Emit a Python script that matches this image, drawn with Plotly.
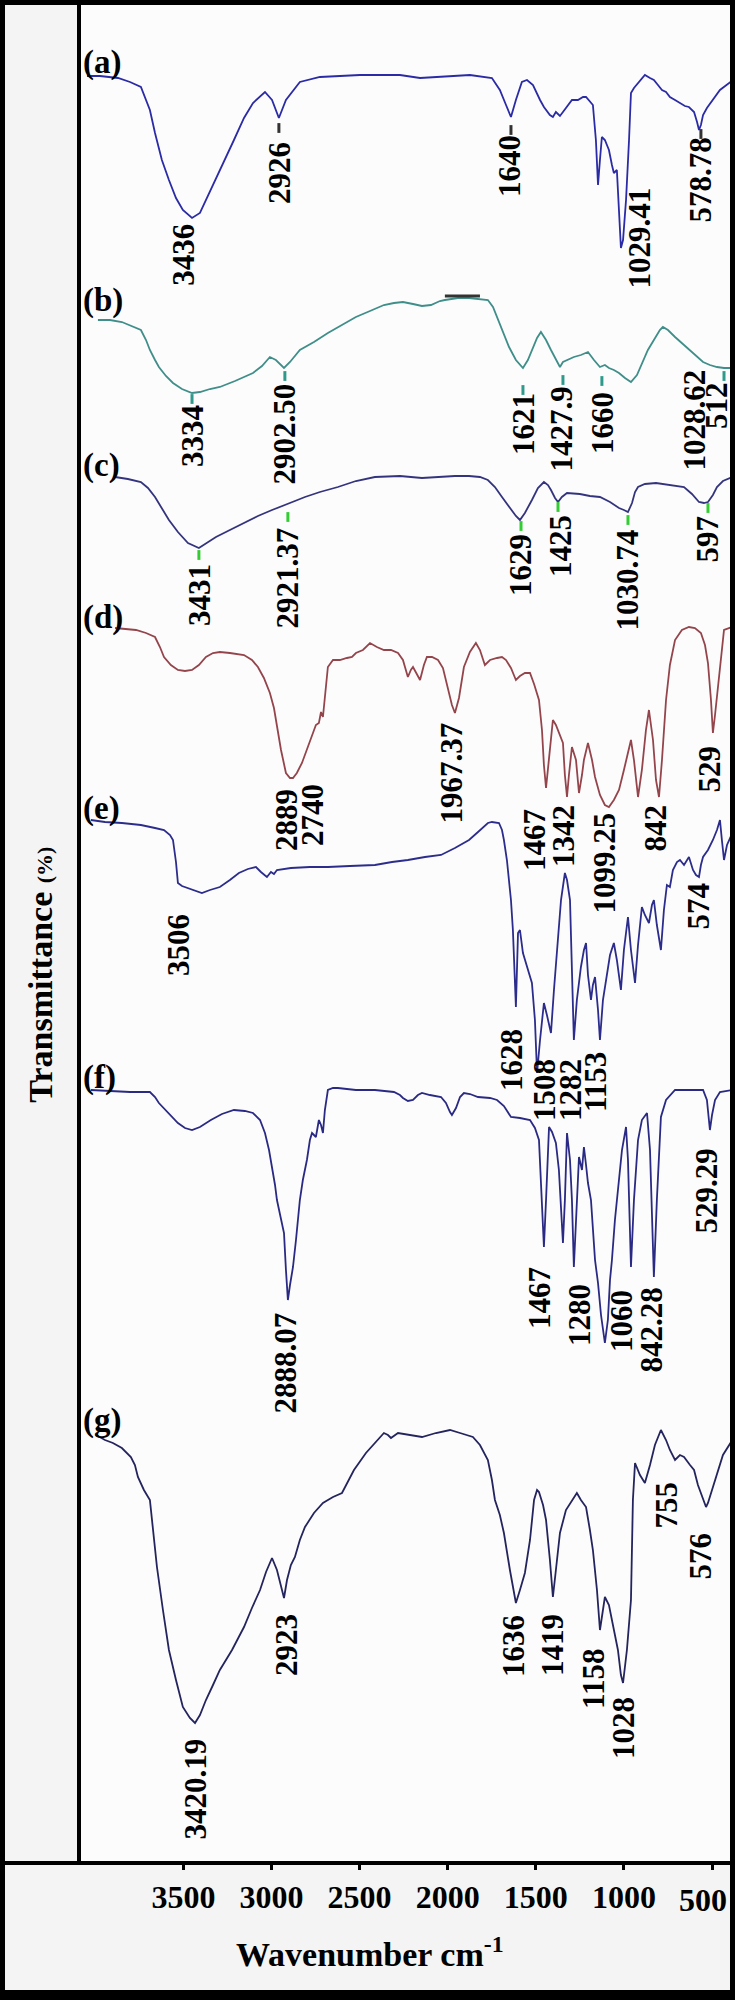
import plotly.graph_objects as go

# stacked FTIR spectra, x = wavenumber (cm-1), y = transmittance with vertical offset (a.u.)
wn_a = [4047, 3974, 3871, 3803, 3741, 3690, 3661, 3622, 3582, 3542, 3503, 3451, 3406, 3344, 3281, 3213, 3156, 3105,
        3037, 2997, 2958, 2918, 2839, 2725, 2498, 2271, 2157, 2044, 1874, 1749, 1704, 1669, 1641, 1613, 1579, 1550,
        1516, 1476, 1454, 1420, 1403, 1386, 1363, 1346, 1318, 1295, 1261, 1232, 1215, 1193, 1176, 1159, 1147, 1136,
        1125, 1108, 1085, 1068, 1057, 1040, 1028, 1017, 1005, 988, 971, 960, 943, 920, 903, 881, 852, 830, 807, 784,
        761, 739, 710, 682, 654, 631, 602, 585, 574, 563, 551, 529, 495, 455, 395]
tr_a = [1787, 1787, 1785, 1781, 1776, 1753, 1730, 1703, 1683, 1665, 1653, 1645, 1650, 1673, 1698, 1723, 1745, 1760,
        1771, 1763, 1745, 1763, 1781, 1786, 1788, 1788, 1785, 1786, 1788, 1785, 1773, 1758, 1746, 1763, 1781, 1783,
        1778, 1763, 1756, 1748, 1746, 1751, 1747, 1751, 1758, 1763, 1763, 1766, 1766, 1761, 1758, 1723, 1678, 1703,
        1726, 1723, 1713, 1698, 1690, 1693, 1653, 1615, 1623, 1663, 1723, 1770, 1775, 1780, 1783, 1788, 1785, 1783,
        1778, 1773, 1771, 1766, 1763, 1760, 1757, 1756, 1751, 1741, 1733, 1738, 1748, 1755, 1763, 1773, 1781]

wn_b = [3985, 3917, 3849, 3792, 3741, 3712, 3690, 3661, 3639, 3599, 3559, 3508, 3451, 3406, 3349, 3293, 3207, 3105,
        3054, 3009, 2975, 2929, 2895, 2839, 2759, 2680, 2600, 2521, 2441, 2362, 2305, 2254, 2197, 2146, 2095, 2044,
        2016, 1942, 1879, 1817, 1772, 1743, 1720, 1686, 1652, 1613, 1573, 1545, 1522, 1493, 1471, 1442, 1414, 1386,
        1363, 1346, 1323, 1284, 1244, 1204, 1170, 1136, 1108, 1085, 1057, 1028, 994, 960, 926, 898, 864, 830, 796,
        779, 750, 710, 671, 631, 591, 551, 512, 472, 432, 385]
tr_b = [1543, 1543, 1541, 1537, 1533, 1523, 1513, 1503, 1496, 1487, 1480, 1474, 1470, 1471, 1474, 1476, 1482, 1490,
        1497, 1506, 1503, 1495, 1501, 1513, 1521, 1530, 1538, 1546, 1552, 1558, 1560, 1561, 1559, 1557, 1558, 1562,
        1563, 1565, 1565, 1564, 1563, 1556, 1546, 1531, 1516, 1503, 1495, 1503, 1513, 1525, 1531, 1523, 1513, 1503,
        1496, 1501, 1503, 1506, 1508, 1511, 1503, 1496, 1498, 1495, 1493, 1490, 1485, 1481, 1488, 1500, 1513, 1523,
        1533, 1536, 1533, 1526, 1520, 1513, 1507, 1501, 1498, 1496, 1495, 1495]

wn_c = [3888, 3815, 3741, 3701, 3661, 3622, 3582, 3531, 3474, 3412, 3366, 3315, 3236, 3156, 3077, 2997, 2918, 2867,
        2810, 2725, 2623, 2521, 2413, 2271, 2146, 2044, 1959, 1879, 1817, 1772, 1732, 1692, 1647, 1613, 1590, 1562,
        1522, 1488, 1454, 1431, 1414, 1391, 1374, 1352, 1323, 1250, 1193, 1136, 1079, 1028, 1000, 977, 954, 937, 920,
        881, 818, 739, 659, 614, 574, 546, 523, 495, 472, 438, 385]
tr_c = [1386, 1384, 1381, 1375, 1366, 1355, 1343, 1331, 1320, 1315, 1320, 1326, 1333, 1340, 1347, 1353, 1358, 1362,
        1366, 1371, 1376, 1382, 1386, 1387, 1385, 1386, 1387, 1387, 1386, 1383, 1376, 1366, 1355, 1347, 1343, 1350,
        1363, 1375, 1381, 1378, 1373, 1365, 1361, 1366, 1370, 1369, 1367, 1366, 1361, 1355, 1353, 1351, 1360, 1371,
        1376, 1379, 1380, 1378, 1376, 1369, 1361, 1360, 1361, 1368, 1376, 1382, 1386]

wn_d = [3888, 3832, 3769, 3712, 3661, 3633, 3610, 3571, 3531, 3491, 3451, 3412, 3372, 3332, 3293, 3236, 3156, 3111,
        3077, 3043, 3009, 2986, 2969, 2946, 2918, 2895, 2878, 2856, 2827, 2799, 2770, 2748, 2731, 2719, 2708, 2691,
        2680, 2651, 2612, 2572, 2543, 2521, 2481, 2441, 2402, 2362, 2322, 2282, 2254, 2226, 2209, 2197, 2180, 2157,
        2135, 2118, 2089, 2055, 2027, 1999, 1976, 1959, 1936, 1908, 1874, 1840, 1817, 1789, 1760, 1720, 1692, 1669,
        1641, 1613, 1590, 1562, 1533, 1510, 1482, 1465, 1454, 1442, 1425, 1403, 1386, 1363, 1346, 1335, 1323, 1312,
        1295, 1272, 1255, 1238, 1227, 1204, 1181, 1164, 1136, 1108, 1085, 1057, 1028, 1000, 977, 960, 943, 920, 898,
        875, 858, 835, 818, 801, 784, 761, 739, 710, 671, 631, 597, 563, 540, 523, 506, 495, 483, 472, 455, 432, 385]
tr_d = [1235, 1234, 1233, 1230, 1226, 1216, 1206, 1198, 1193, 1192, 1193, 1198, 1206, 1210, 1211, 1210, 1208, 1203,
        1196, 1185, 1170, 1155, 1136, 1113, 1090, 1085, 1085, 1090, 1100, 1113, 1126, 1138, 1140, 1151, 1146, 1173,
        1196, 1203, 1203, 1205, 1206, 1210, 1213, 1220, 1216, 1213, 1213, 1210, 1203, 1186, 1193, 1196, 1191, 1183,
        1198, 1206, 1206, 1203, 1195, 1173, 1158, 1150, 1165, 1196, 1211, 1220, 1213, 1198, 1203, 1205, 1206, 1203,
        1195, 1183, 1187, 1190, 1190, 1179, 1163, 1133, 1098, 1075, 1103, 1143, 1138, 1128, 1120, 1088, 1066, 1088,
        1116, 1103, 1070, 1088, 1103, 1120, 1103, 1086, 1068, 1058, 1056, 1063, 1073, 1093, 1111, 1123, 1103, 1066,
        1093, 1133, 1153, 1123, 1083, 1066, 1103, 1163, 1198, 1223, 1233, 1236, 1235, 1230, 1218, 1200, 1163, 1130,
        1148, 1166, 1198, 1233, 1236]

wn_e = [4025, 3945, 3849, 3741, 3661, 3610, 3576, 3559, 3542, 3531, 3508, 3491, 3446, 3395, 3349, 3293, 3236, 3185,
        3134, 3088, 3060, 3043, 3026, 3003, 2986, 2969, 2929, 2890, 2782, 2680, 2555, 2413, 2316, 2226, 2129, 2038,
        1959, 1879, 1828, 1800, 1772, 1749, 1726, 1709, 1692, 1681, 1664, 1652, 1641, 1630, 1613, 1601, 1590, 1573,
        1545, 1522, 1505, 1493, 1476, 1454, 1437, 1414, 1397, 1374, 1357, 1335, 1323, 1306, 1295, 1284, 1267, 1244,
        1227, 1215, 1204, 1187, 1176, 1164, 1147, 1136, 1119, 1096, 1079, 1057, 1040, 1017, 1000, 977, 960, 937, 920,
        898, 881, 858, 841, 830, 813, 790, 773, 756, 739, 722, 699, 682, 659, 631, 608, 591, 574, 563, 551, 523, 495,
        472, 455, 444, 432, 415, 385]
tr_e = [1043, 1041, 1040, 1038, 1035, 1033, 1028, 1023, 1001, 980, 977, 976, 973, 970, 973, 976, 983, 990, 994, 996,
        991, 988, 986, 991, 989, 993, 994, 995, 996, 996, 997, 998, 1001, 1003, 1006, 1008, 1015, 1023, 1031, 1036,
        1040, 1041, 1040, 1040, 1033, 1023, 1003, 983, 963, 933, 856, 930, 933, 910, 893, 880, 843, 790, 823, 860,
        848, 830, 873, 930, 963, 990, 983, 963, 903, 823, 863, 896, 913, 920, 888, 863, 878, 886, 853, 823, 863, 890,
        908, 920, 903, 873, 913, 946, 913, 880, 918, 956, 948, 940, 958, 963, 938, 913, 953, 978, 976, 993, 1001,
        1003, 998, 1006, 993, 988, 986, 998, 1006, 1013, 1023, 1033, 1043, 1023, 1003, 1018, 1030]

wn_f = [4025, 3917, 3803, 3690, 3661, 3639, 3588, 3531, 3491, 3451, 3406, 3344, 3281, 3213, 3151, 3105, 3065, 3037,
        3014, 2997, 2980, 2969, 2952, 2929, 2918, 2907, 2895, 2878, 2861, 2839, 2822, 2799, 2782, 2770, 2759, 2748,
        2736, 2731, 2719, 2708, 2697, 2680, 2651, 2623, 2521, 2413, 2305, 2271, 2254, 2226, 2197, 2169, 2146, 2101,
        2038, 2010, 1987, 1976, 1953, 1930, 1908, 1874, 1828, 1760, 1720, 1681, 1641, 1590, 1533, 1505, 1482, 1471,
        1459, 1454, 1442, 1425, 1408, 1386, 1369, 1346, 1335, 1323, 1306, 1295, 1284, 1272, 1255, 1238, 1227, 1215,
        1204, 1187, 1176, 1164, 1147, 1130, 1108, 1091, 1079, 1068, 1051, 1028, 1011, 988, 977, 960, 943, 920, 898,
        869, 852, 830, 813, 790, 761, 710, 625, 551, 529, 512, 500, 483, 455, 385]
tr_f = [773, 772, 771, 771, 766, 760, 751, 740, 735, 733, 736, 743, 749, 753, 752, 750, 743, 730, 713, 696, 678, 663,
        648, 630, 593, 563, 578, 596, 623, 663, 683, 703, 723, 730, 728, 726, 738, 743, 738, 730, 753, 773, 775, 775,
        773, 773, 771, 768, 765, 762, 763, 768, 770, 768, 766, 760, 751, 748, 755, 766, 770, 769, 766, 765, 763, 757,
        746, 745, 743, 735, 723, 683, 633, 616, 663, 736, 731, 720, 693, 620, 663, 730, 703, 663, 596, 643, 706, 693,
        716, 698, 680, 663, 633, 603, 580, 548, 520, 543, 583, 603, 643, 680, 713, 736, 703, 596, 663, 723, 743, 750,
        713, 586, 663, 746, 763, 773, 773, 773, 763, 733, 748, 763, 771, 773]

wn_g = [3996, 3945, 3900, 3849, 3798, 3775, 3758, 3724, 3690, 3650, 3616, 3582, 3542, 3503, 3463, 3434, 3406, 3372,
        3332, 3293, 3224, 3156, 3111, 3065, 3031, 2997, 2969, 2946, 2929, 2912, 2890, 2867, 2839, 2810, 2759, 2708,
        2651, 2600, 2532, 2464, 2413, 2362, 2339, 2322, 2282, 2214, 2146, 2067, 1987, 1930, 1857, 1817, 1772, 1749,
        1732, 1704, 1681, 1647, 1613, 1590, 1562, 1533, 1510, 1493, 1482, 1459, 1442, 1420, 1403, 1386, 1363, 1329,
        1295, 1267, 1244, 1215, 1193, 1176, 1153, 1136, 1119, 1108, 1085, 1057, 1034, 1017, 1005, 983, 960, 949, 937,
        909, 881, 852, 824, 790, 761, 739, 710, 682, 659, 625, 602, 580, 551, 534, 523, 500, 472, 438, 385]
tr_g = [428, 423, 420, 415, 406, 398, 386, 373, 363, 296, 253, 213, 183, 156, 145, 140, 148, 163, 178, 193, 213, 236,
        255, 273, 291, 305, 293, 278, 265, 283, 298, 306, 323, 336, 350, 360, 366, 370, 393, 410, 420, 430, 428, 425,
        430, 428, 426, 430, 433, 430, 426, 418, 403, 383, 363, 348, 330, 293, 260, 273, 290, 323, 363, 373, 371, 358,
        343, 303, 266, 293, 330, 353, 363, 370, 363, 356, 333, 313, 273, 233, 253, 266, 258, 233, 213, 188, 180, 213,
        263, 363, 400, 388, 380, 398, 418, 433, 423, 413, 403, 408, 406, 398, 393, 378, 363, 356, 360, 373, 390, 408,
        423]

# peak labels: text, wavenumber position, top of label
peaks_a = ["3436", "2926", "1640", "1029.41", "578.78"]
peaks_a_wn = [3503, 2958, 1652, 909, 563]
peaks_a_y = [1641, 1723, 1730, 1678, 1728]

peaks_b = ["3334", "2902.50", "1621", "1427.9", "1660", "1028.62", "512"]
peaks_b_wn = [3451, 2929, 1573, 1357, 1125, 602, 475]
peaks_b_y = [1460, 1481, 1472, 1478, 1473, 1495, 1483]

peaks_c = ["3431", "2921.37", "1629", "1425", "1030.74", "597"]
peaks_c_wn = [3412, 2907, 1590, 1363, 977, 523]
peaks_c_y = [1301, 1338, 1331, 1350, 1336, 1350]

peaks_d = ["2889", "2740", "1967.37", "1467", "1342", "1099.25", "842", "529"]
peaks_d_wn = [2918, 2770, 1976, 1510, 1346, 1108, 818, 512]
peaks_d_y = [1076, 1081, 1143, 1056, 1060, 1053, 1061, 1120]

peaks_e = ["3506", "1628", "1508", "1282", "1153", "574"]
peaks_e_wn = [3531, 1641, 1454, 1306, 1164, 574]
peaks_e_y = [951, 836, 806, 806, 813, 983]

peaks_f = ["2888.07", "1467", "1280", "1060", "842.28", "529.29"]
peaks_f_wn = [2918, 1482, 1255, 1017, 841, 534]
peaks_f_y = [553, 598, 581, 575, 578, 716]

peaks_g = ["3420.19", "2923", "1636", "1419", "1158", "1028", "755", "576"]
peaks_g_wn = [3434, 2918, 1630, 1408, 1176, 1005, 761, 563]
peaks_g_y = [126, 251, 250, 251, 216, 168, 383, 333]

# small marker dashes drawn under some of the peaks
mark_b_wn = [3451, 2924, 1573, 1346, 1125, 432]
mark_b_y = [1464, 1487, 1473, 1483, 1482, 1487]
mark_c_wn = [3412, 2907, 1584, 1374, 977, 523]
mark_c_y = [1308, 1346, 1337, 1356, 1343, 1355]
mark_a_wn = [2958, 1641, 563]
mark_a_y = [1735, 1733, 1729]
bar_b_wn = [2016, 1817]
bar_b_y = [1567, 1567]

names = ["(a)", "(b)", "(c)", "(d)", "(e)", "(f)", "(g)"]
name_y = [1801, 1563, 1398, 1246, 1055, 786, 443]
ticks = [3500, 3000, 2500, 2000, 1500, 1000, 500]
tick_text = ["3500", "3000", "2500", "2000", "1500", "1000", ""]

series = [
    (wn_a, tr_a, "#2b2ba6", peaks_a, peaks_a_wn, peaks_a_y),
    (wn_b, tr_b, "#3f8e8a", peaks_b, peaks_b_wn, peaks_b_y),
    (wn_c, tr_c, "#34347e", peaks_c, peaks_c_wn, peaks_c_y),
    (wn_d, tr_d, "#94454c", peaks_d, peaks_d_wn, peaks_d_y),
    (wn_e, tr_e, "#2c2c8c", peaks_e, peaks_e_wn, peaks_e_y),
    (wn_f, tr_f, "#2a2a84", peaks_f, peaks_f_wn, peaks_f_y),
    (wn_g, tr_g, "#24245e", peaks_g, peaks_g_wn, peaks_g_y),
]

serif = "Liberation Serif"
fig = go.Figure()
annotations = []
for i, (x, y, col, ptxt, pwn, py) in enumerate(series):
    fig.add_trace(go.Scatter(x=x, y=y, mode="lines", line=dict(color=col, width=1.8),
                             showlegend=False, hoverinfo="skip"))
    for t, xv, yv in zip(ptxt, pwn, py):
        annotations.append(dict(x=xv, y=yv, xref="x", yref="y", text=t, textangle=-90,
                                xanchor="center", yanchor="top", showarrow=False,
                                font=dict(family=serif, size=31, color="black", weight="bold")))
    annotations.append(dict(x=0.0, y=name_y[i], xref="paper", yref="y", text=names[i],
                            xanchor="left", yanchor="middle", showarrow=False,
                            font=dict(family=serif, size=33, color="black", weight="bold")))

for mx, my, mc in [(mark_a_wn, mark_a_y, "#333333"), (mark_b_wn, mark_b_y, "#2f9a8c"),
                   (mark_c_wn, mark_c_y, "#33cc33")]:
    fig.add_trace(go.Scatter(x=mx, y=my, mode="markers", showlegend=False, hoverinfo="skip",
                             marker=dict(symbol="line-ns", size=7, line=dict(color=mc, width=3))))
fig.add_trace(go.Scatter(x=bar_b_wn, y=bar_b_y, mode="lines", showlegend=False, hoverinfo="skip",
                         line=dict(color="#333333", width=3)))

# last tick label sits against the frame, nudged left so it stays inside
annotations.append(dict(x=ticks[-1], y=-0.0199, xref="x", yref="paper", text="500", xshift=-9,
                        showarrow=False, xanchor="center", yanchor="middle",
                        font=dict(family=serif, size=32, color="black", weight="bold")))
annotations.append(dict(x=0.445, y=-0.048, xref="paper", yref="paper",
                        text="Wavenumber cm<sup>-1</sup>", showarrow=False,
                        xanchor="center", yanchor="middle",
                        font=dict(family=serif, size=34, color="black", weight="bold")))
annotations.append(dict(x=-0.062, y=0.478, xref="paper", yref="paper", textangle=-90,
                        text="Transmittance <span style='font-size:22px'>(%)</span>", showarrow=False,
                        xanchor="center", yanchor="middle",
                        font=dict(family=serif, size=34, color="black", weight="bold")))

fig.update_layout(
    width=735, height=2000,
    margin=dict(l=81, r=5, t=5, b=137),
    paper_bgcolor="#f4f4f4", plot_bgcolor="#fcfcfc",
    annotations=annotations,
    shapes=[
        dict(type="line", xref="paper", yref="paper", x0=-0.125, x1=1.008, y0=0, y1=0,
             line=dict(color="black", width=4)),
        dict(type="rect", xref="paper", yref="paper", x0=-0.1248, x1=1.0077, y0=-0.0737, y1=1.0027,
             line=dict(color="black", width=10)),
        dict(type="rect", xref="paper", yref="paper", x0=-0.13, x1=1.01, y0=-0.08, y1=-0.0684,
             fillcolor="black", line=dict(width=0)),
    ],
    xaxis=dict(range=[4081, 398], tickvals=ticks, ticktext=tick_text, ticks="outside", ticklen=6,
               tickwidth=3, tickcolor="black", showgrid=False, zeroline=False, showline=False,
               automargin=False,
               tickfont=dict(family=serif, size=32, color="black", weight="bold")),
    yaxis=dict(range=[0, 1858], showticklabels=False, ticks="", showgrid=False, zeroline=False,
               showline=True, linecolor="black", linewidth=4, automargin=False),
)

# the page's default body margin would push the figure off the 735x2000 window
fig.write_html("out.html", config={"displayModeBar": False},
               post_script="document.body.style.margin='0px';")
